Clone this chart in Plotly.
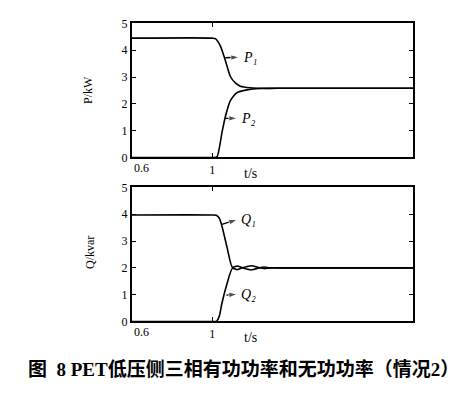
import plotly.graph_objects as go

# ---- data ----
t_p = [0.6, 1.0, 1.015, 1.04, 1.065, 1.09, 1.115, 1.14, 1.19, 1.25, 1.35, 2.0]
P1 = [4.45, 4.45, 4.43, 4.16, 3.62, 3.02, 2.78, 2.66, 2.60, 2.58, 2.58, 2.58]
t_p2 = [0.6, 1.0, 1.023, 1.048, 1.065, 1.09, 1.123, 1.173, 1.24, 1.35, 2.0]
P2 = [0.0, 0.0, 0.02, 0.92, 1.52, 2.12, 2.42, 2.52, 2.57, 2.58, 2.58]

t_q = [0.6, 1.0, 1.02, 1.035, 1.048, 1.073, 1.10, 1.125, 1.15, 1.195, 1.235, 1.26, 1.285, 1.32, 2.0]
Q1 = [3.97, 3.97, 3.96, 3.85, 3.56, 2.78, 2.02, 2.07, 2.0, 1.92, 2.0, 2.03, 2.0, 2.0, 2.0]
Q2 = [0.0, 0.0, 0.0, 0.2, 0.68, 1.40, 1.98, 1.93, 2.0, 2.08, 2.0, 1.97, 2.0, 2.0, 2.0]

y_ticks = [0, 1, 2, 3, 4, 5]
x_ticks = [1]
x_range = [0.6, 2.0]
y_range = [0, 5]

caption = "图  8 PET低压侧三相有功功率和无功功率（情况2）"

SERIF = "Liberation Serif, Times New Roman, serif"

fig = go.Figure()
line = dict(color="black", width=1.6, shape="spline", smoothing=0.6)
fig.add_trace(go.Scatter(x=t_p, y=P1, mode="lines", line=line, xaxis="x", yaxis="y", showlegend=False))
fig.add_trace(go.Scatter(x=t_p2, y=P2, mode="lines", line=line, xaxis="x", yaxis="y", showlegend=False))
fig.add_trace(go.Scatter(x=t_q, y=Q1, mode="lines", line=line, xaxis="x2", yaxis="y2", showlegend=False))
fig.add_trace(go.Scatter(x=t_q, y=Q2, mode="lines", line=line, xaxis="x2", yaxis="y2", showlegend=False))

W, H = 462, 396
xl, xr = 132 / W, 413 / W
top_dom = [1 - 156 / H, 1 - 17 / H]
bot_dom = [1 - 326 / H, 1 - 187 / H]

ax_common = dict(showline=True, linewidth=2, linecolor="black", mirror="ticks",
                 ticks="inside", ticklen=4, tickwidth=1, tickcolor="black",
                 showgrid=False, zeroline=False,
                 tickfont=dict(family=SERIF, size=12, color="black"))

fig.update_layout(
    width=W, height=H, margin=dict(l=0, r=0, t=0, b=0),
    paper_bgcolor="white", plot_bgcolor="white",
    xaxis=dict(domain=[xl, xr], range=x_range, tickvals=x_ticks, ticktext=["1"], anchor="y", **ax_common),
    yaxis=dict(domain=top_dom, range=y_range, tickvals=y_ticks, anchor="x", **ax_common),
    xaxis2=dict(domain=[xl, xr], range=x_range, tickvals=x_ticks, ticktext=["1"], anchor="y2", **ax_common),
    yaxis2=dict(domain=bot_dom, range=y_range, tickvals=y_ticks, anchor="x2", **ax_common),
)

anns = []
tf = dict(family=SERIF, size=12, color="black")
# "0.6" labels (left-aligned at the axis origin)
for xr_, yr_ in [("x", "y"), ("x2", "y2")]:
    anns.append(dict(x=0.6, y=0, xref=xr_, yref=yr_, text="0.6", showarrow=False,
                     xanchor="left", yanchor="top", yshift=-2, xshift=0, font=tf))
# axis titles
anns.append(dict(x=88 / W, y=1 - 86 / H, xref="paper", yref="paper", text="P/kW", textangle=-90,
                 showarrow=False, xanchor="center", yanchor="middle",
                 font=dict(family=SERIF, size=12, color="black")))
anns.append(dict(x=90 / W, y=1 - 255 / H, xref="paper", yref="paper", text="Q/kvar", textangle=-90,
                 showarrow=False, xanchor="center", yanchor="middle",
                 font=dict(family=SERIF, size=12, color="black")))
anns.append(dict(x=250 / W, y=1 - 173 / H, xref="paper", yref="paper", text="t/s",
                 showarrow=False, yanchor="middle", font=dict(family=SERIF, size=14, color="black")))
anns.append(dict(x=250 / W, y=1 - 343 / H, xref="paper", yref="paper", text="t/s",
                 showarrow=False, yanchor="middle", font=dict(family=SERIF, size=14, color="black")))

# curve labels with arrows (arrow drawn as a short line with an arrow marker at its head)
labels = [
    ("x", "y", 1.065, 3.72, 1.135, 3.74, "P₁"),
    ("x", "y", 1.065, 1.46, 1.125, 1.46, "P₂"),
    ("x2", "y2", 1.048, 3.62, 1.125, 3.80, "Q₁"),
    ("x2", "y2", 1.07, 0.98, 1.125, 1.02, "Q₂"),
]
for xr_, yr_, tx, ty, hx, hy, txt in labels:
    fig.add_trace(go.Scatter(x=[tx, hx], y=[ty, hy], mode="lines+markers",
                             line=dict(color="black", width=1.3),
                             marker=dict(symbol=["circle", "arrow"], size=[0, 9], color="black",
                                         angleref="previous"),
                             xaxis=xr_, yaxis=yr_, showlegend=False, hoverinfo="skip"))
    anns.append(dict(x=hx + 0.006, y=hy, xref=xr_, yref=yr_, text=txt, showarrow=False,
                     xanchor="left", yanchor="middle",
                     font=dict(family=SERIF, size=14, color="black", style="italic")))

# caption
anns.append(dict(x=243 / W, y=1 - 376 / H, xref="paper", yref="paper", text="<b>" + caption + "</b>",
                 showarrow=False, xanchor="center", yanchor="middle",
                 font=dict(family="Liberation Serif, Noto Sans CJK SC", size=19, color="black")))

fig.update_layout(annotations=anns)
fig.write_html("out.html")
